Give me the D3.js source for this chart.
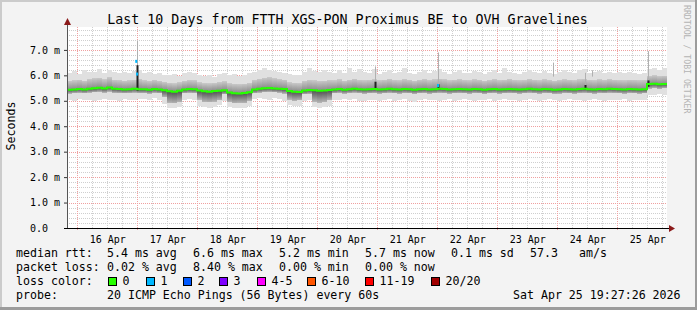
<!DOCTYPE html>
<html>
<head>
<meta charset="utf-8">
<script src="https://cdn.jsdelivr.net/npm/d3@7"></script>
<style>
body { margin: 0; background: #f3f3f3; }
svg { display: block; }
text { font-family: "DejaVu Sans Mono", monospace; fill: #000; }
</style>
</head>
<body>
<script>
var W = 697, H = 310;
var plot = {left: 67, right: 667, top: 27, bottom: 228};

var parseTime = d3.utcParse("%Y-%m-%d %H:%M");
var startTime = parseTime("2026-04-15 19:53");
var endTime = parseTime("2026-04-25 19:53");
var binHours = 2;

//median rtt in ms, one value per 2 hour bin
var median = [
  5.43,5.44,5.46,5.44,5.47,5.49,5.51,5.48,5.52,5.47,5.46,5.44,5.45,5.47,
  5.45,
  5.45,5.43,5.46,5.44,5.41,
  5.37,5.36,5.39,
  5.44,5.46,5.45,
  5.40,5.37,5.36,5.38,5.39,
  5.41,
  5.33,5.30,5.29,5.31,5.34,
  5.44,5.47,5.49,5.50,5.48,5.47,5.46,
  5.38,5.36,5.35,
  5.40,5.42,
  5.41,5.39,5.40,5.42,
  5.44,5.46,5.43,5.45,5.47,5.45,5.44,
  5.45,5.46,5.44,5.45,5.47,5.45,5.44,5.46,5.45,5.43,
  5.45,5.46,5.44,5.45,5.47,5.46,5.44,5.45,5.46,5.45,
  5.44,5.46,5.45,5.43,5.45,5.46,5.44,5.45,5.46,5.45,
  5.44,5.45,5.47,5.45,5.44,5.46,5.45,5.43,5.44,5.46,
  5.45,5.44,5.46,5.47,5.45,5.44,5.46,5.45,5.47,5.46,
  5.45,5.44,5.46,5.45,5.44,5.45,
  5.66,5.67,5.65,5.66
];

//smoke: lowest ping of each bin
var smokeMin = [
  5.04,5.00,5.07,5.02,5.05,4.99,5.03,5.07,5.02,5.05,5.00,5.06,5.02,5.05,
  5.08,
  5.07,5.04,5.09,5.05,4.88,
  4.72,4.70,4.76,
  5.05,5.08,5.02,
  4.80,4.74,4.72,4.75,4.82,
  5.00,
  4.74,4.70,4.72,4.70,4.80,
  5.06,5.10,5.08,5.04,5.10,5.06,5.00,
  4.82,4.78,4.80,
  5.00,5.03,
  4.76,4.72,4.74,4.80,
  5.05,5.02,5.08,5.04,5.06,5.00,4.98,
  5.02,5.05,4.98,5.04,5.07,5.00,5.03,5.06,5.01,4.97,
  5.04,5.08,5.02,5.05,4.99,5.03,5.06,5.00,5.04,5.07,
  5.02,4.98,5.05,5.03,5.06,5.01,5.04,5.08,5.02,5.05,
  5.00,5.03,5.06,5.02,4.99,5.05,5.07,5.03,5.00,5.04,
  5.06,5.02,5.05,5.01,5.04,5.07,5.03,5.00,5.05,5.02,
  5.04,5.06,5.01,5.03,5.05,5.02,
  5.24,5.22,5.26,5.23
];

//smoke: lower quartile
var smokeLow = [
  5.28,5.30,5.31,5.29,5.32,5.33,5.35,5.32,5.36,5.31,5.30,5.29,5.30,5.32,
  5.30,
  5.30,5.28,5.31,5.29,5.15,
  4.92,4.90,4.95,
  5.29,5.31,5.30,
  5.05,4.96,4.94,4.97,5.02,
  5.25,
  4.95,4.90,4.92,4.91,5.00,
  5.29,5.32,5.34,5.35,5.33,5.32,5.28,
  5.05,5.00,5.02,
  5.25,5.27,
  4.97,4.93,4.95,5.02,
  5.29,5.31,5.28,5.30,5.32,5.30,5.28,
  5.29,5.30,5.28,5.29,5.31,5.29,5.28,5.30,5.29,5.27,
  5.29,5.30,5.28,5.29,5.31,5.30,5.28,5.29,5.30,5.29,
  5.28,5.30,5.29,5.27,5.29,5.30,5.28,5.29,5.30,5.29,
  5.28,5.29,5.31,5.29,5.28,5.30,5.29,5.27,5.28,5.30,
  5.29,5.28,5.30,5.31,5.29,5.28,5.30,5.29,5.31,5.30,
  5.29,5.28,5.30,5.29,5.28,5.29,
  5.48,5.50,5.47,5.49
];

//smoke: upper quartile
var smokeHigh = [
  5.78,5.80,5.83,5.79,5.85,5.88,5.90,5.84,5.92,5.83,5.81,5.79,5.80,5.82,
  5.85,
  5.80,5.78,5.82,5.79,5.74,
  5.70,5.68,5.72,
  5.78,5.81,5.80,
  5.72,5.69,5.68,5.70,5.73,
  5.76,
  5.68,5.66,5.65,5.67,5.70,
  5.82,5.86,5.90,5.92,5.88,5.85,5.83,
  5.72,5.70,5.69,
  5.78,5.82,
  5.80,5.78,5.79,5.81,
  5.80,5.84,5.79,5.83,5.86,5.82,5.80,
  5.82,5.84,5.80,5.83,5.86,5.82,5.80,5.85,5.83,5.79,
  5.83,5.85,5.81,5.84,5.87,5.84,5.80,5.83,5.85,5.82,
  5.80,5.84,5.83,5.79,5.82,5.85,5.81,5.83,5.86,5.82,
  5.80,5.82,5.86,5.83,5.80,5.84,5.82,5.79,5.81,5.84,
  5.83,5.80,5.84,5.86,5.82,5.80,5.84,5.82,5.85,5.83,
  5.81,5.80,5.83,5.82,5.80,5.81,
  5.98,6.00,5.97,5.99
];

//smoke: highest ping of each bin
var smokeMax = [
  6.10,6.18,6.05,6.22,6.12,6.15,6.25,6.10,6.20,6.12,6.08,6.15,6.10,6.18,
  6.20,
  6.08,6.12,6.05,6.10,6.02,
  6.00,6.05,5.98,
  6.10,6.15,6.08,
  6.02,5.98,6.00,5.95,6.05,
  6.08,
  6.00,6.05,5.98,6.02,6.08,
  6.15,6.20,6.28,6.22,6.18,6.12,6.10,
  6.05,6.00,6.02,
  6.12,6.30,
  6.18,6.15,6.22,6.12,
  6.10,6.20,6.08,6.30,6.15,6.25,6.12,
  6.10,6.25,6.05,6.15,6.20,6.08,6.12,6.30,6.10,6.05,
  6.15,6.20,6.08,6.18,6.25,6.12,6.05,6.15,6.22,6.10,
  6.08,6.18,6.12,6.05,6.15,6.20,6.10,6.28,6.12,6.08,
  6.05,6.12,6.20,6.15,6.08,6.18,6.10,6.05,6.12,6.22,
  6.15,6.08,6.20,6.25,6.10,6.12,6.18,6.08,6.15,6.10,
  6.12,6.08,6.15,6.10,6.05,6.08,
  6.25,6.30,6.22,6.28
];

//single spikes: dark column from low to high, thin line up to top
var spikeTimes = ["2026-04-16 23:45", "2026-04-20 23:05", "2026-04-22 00:17", "2026-04-23 22:17", "2026-04-24 11:05", "2026-04-24 13:53", "2026-04-25 12:17"];
var spikeLow  = [5.40, 5.50, 5.50, 5.95, 5.45, 5.95, 5.55];
var spikeHigh = [6.40, 5.75, 5.65, 5.95, 5.62, 5.95, 5.80];
var spikeTop  = [7.35, 6.35, 6.90, 6.50, 6.10, 6.20, 6.95];

//median samples with packet loss
var lossTimes  = ["2026-04-16 23:35", "2026-04-16 23:55", "2026-04-22 00:17"];
var lossValues = [6.55, 6.05, 5.60];
var lossCounts = [1, 1, 1];

var yTicks = [0, 1, 2, 3, 4, 5, 6, 7];
var lossLabels = ["0", "1", "2", "3", "4-5", "6-10", "11-19", "20/20"];
var lossColors = ["#26ff00", "#00b8ff", "#0059ff", "#7e00ff", "#ff00ff", "#ff5500", "#ff0000", "#a10000"];

var xScale = d3.scaleUtc()
               .domain([startTime, endTime])
               .range([plot.left, plot.right]);

var yScale = d3.scaleLinear()
               .domain([0, 7.9])
               .range([plot.bottom, plot.top]);

var svg = d3.select("body")
            .append("svg")
            .attr("width", W)
            .attr("height", H);

//gradients for the smoke shading
var defs = svg.append("defs");
var gBelow = defs.append("linearGradient").attr("id", "below").attr("x1", 0).attr("y1", 0).attr("x2", 0).attr("y2", 1);
gBelow.append("stop").attr("offset", 0).attr("stop-color", "#505050");
gBelow.append("stop").attr("offset", 1).attr("stop-color", "#b4b4b4");
var gAbove = defs.append("linearGradient").attr("id", "above").attr("x1", 0).attr("y1", 0).attr("x2", 0).attr("y2", 1);
gAbove.append("stop").attr("offset", 0).attr("stop-color", "#c8c8c8");
gAbove.append("stop").attr("offset", 1).attr("stop-color", "#8a8a8a");

//frame with 3d shade
svg.append("rect").attr("width", W).attr("height", H).attr("fill", "#f3f3f3");
svg.append("path").attr("d", "M0,0H" + W + "V2H2V" + H + "H0Z").attr("fill", "#cbcbcb");
svg.append("path").attr("d", "M" + W + ",0V" + H + "H0V" + (H - 3) + "H" + (W - 2) + "V0Z").attr("fill", "#9c9c9c");

//canvas
svg.append("rect")
   .attr("x", plot.left)
   .attr("y", plot.top)
   .attr("width", plot.right - plot.left)
   .attr("height", plot.bottom - plot.top)
   .attr("fill", "#ffffff");

//grid lines
var grid = svg.append("g");
var minorX = d3.utcHour.every(6).range(startTime, endTime).filter(function(d){ return d.getUTCHours() != 0; });
var majorX = d3.utcDay.range(startTime, endTime);
var minorY = d3.range(1, 40).map(function(d){ return d / 5; }).filter(function(d){ return d % 1 > 0.01 && d % 1 < 0.99; });

grid.selectAll(".minx").data(minorX).enter().append("line")
    .attr("x1", function(d){ return Math.round(xScale(d)) + 0.5; })
    .attr("x2", function(d){ return Math.round(xScale(d)) + 0.5; })
    .attr("y1", plot.top).attr("y2", plot.bottom)
    .attr("stroke", "#cfcfcf").attr("stroke-dasharray", "1,1");

grid.selectAll(".miny").data(minorY).enter().append("line")
    .attr("x1", plot.left).attr("x2", plot.right)
    .attr("y1", function(d){ return Math.round(yScale(d)) + 0.5; })
    .attr("y2", function(d){ return Math.round(yScale(d)) + 0.5; })
    .attr("stroke", "#cfcfcf").attr("stroke-dasharray", "1,1");

grid.selectAll(".majx").data(majorX).enter().append("line")
    .attr("x1", function(d){ return Math.round(xScale(d)) + 0.5; })
    .attr("x2", function(d){ return Math.round(xScale(d)) + 0.5; })
    .attr("y1", plot.top).attr("y2", plot.bottom + 3)
    .attr("stroke", "#f0a0a0").attr("stroke-dasharray", "1,1");

grid.selectAll(".majy").data(yTicks.slice(1)).enter().append("line")
    .attr("x1", plot.left).attr("x2", plot.right)
    .attr("y1", function(d){ return Math.round(yScale(d)) + 0.5; })
    .attr("y2", function(d){ return Math.round(yScale(d)) + 0.5; })
    .attr("stroke", "#f0a0a0").attr("stroke-dasharray", "1,1");

//smoke bins
var bins = median.map(function(d, i){
    return {t0: d3.utcHour.offset(startTime, binHours * i),
            t1: d3.utcHour.offset(startTime, binHours * (i + 1)),
            med: d, min: smokeMin[i], low: smokeLow[i], high: smokeHigh[i], max: smokeMax[i]};
});

function smokeLayer(lo, hi, color){
    svg.append("g")
       .selectAll("rect")
       .data(bins)
       .enter()
       .append("rect")
       .attr("x", function(d){ return xScale(d.t0); })
       .attr("width", function(d){ return xScale(d.t1) - xScale(d.t0); })
       .attr("y", function(d){ return yScale(d[hi]); })
       .attr("height", function(d){ return yScale(d[lo]) - yScale(d[hi]); })
       .attr("fill", color)
       .attr("shape-rendering", "crispEdges");
}

smokeLayer("min", "max", "#e0e0e0");
smokeLayer("med", "high", "url(#above)");
smokeLayer("low", "med", "url(#below)");

//spikes
var spikes = spikeTimes.map(function(d, i){
    return {t: parseTime(d), low: spikeLow[i], high: spikeHigh[i], top: spikeTop[i]};
});

svg.append("g").selectAll("line").data(spikes).enter().append("line")
   .attr("x1", function(d){ return Math.round(xScale(d.t)) + 0.5; })
   .attr("x2", function(d){ return Math.round(xScale(d.t)) + 0.5; })
   .attr("y1", function(d){ return yScale(d.high); })
   .attr("y2", function(d){ return yScale(d.top); })
   .attr("stroke", "#b0b0b0");

svg.append("g").selectAll("line").data(spikes).enter().append("line")
   .attr("x1", function(d){ return Math.round(xScale(d.t)) + 0.5; })
   .attr("x2", function(d){ return Math.round(xScale(d.t)) + 0.5; })
   .attr("y1", function(d){ return yScale(d.low); })
   .attr("y2", function(d){ return yScale(d.high); })
   .attr("stroke", "#222")
   .attr("stroke-width", 2);

//median line
var medLine = d3.line()
                .x(function(d){ return xScale(d.t0); })
                .y(function(d){ return yScale(d.med); })
                .curve(d3.curveStepAfter);

var lastBin = bins[bins.length - 1];
svg.append("path")
   .datum(bins.concat([{t0: lastBin.t1, med: lastBin.med}]))
   .attr("d", medLine)
   .attr("fill", "none")
   .attr("stroke", lossColors[0])
   .attr("stroke-width", 2);

//loss colored samples
svg.append("g").selectAll("rect")
   .data(lossTimes.map(function(d, i){ return {t: parseTime(d), v: lossValues[i], c: lossCounts[i]}; }))
   .enter()
   .append("rect")
   .attr("x", function(d){ return xScale(d.t) - 1; })
   .attr("y", function(d){ return yScale(d.v) - 1.5; })
   .attr("width", 2)
   .attr("height", 3)
   .attr("fill", function(d){ return lossColors[d.c]; });

//axes
var yAxis = d3.axisLeft(yScale)
              .tickValues(yTicks)
              .tickSize(3)
              .tickFormat(function(d){ return d == 0 ? "0.0" : d.toFixed(1) + " m"; });

var yg = svg.append("g")
            .attr("transform", "translate(" + plot.left + ",0)")
            .call(yAxis);
yg.select(".domain").remove();
yg.selectAll("line").attr("stroke", "#333");
yg.selectAll("text")
  .attr("x", -37)
  .attr("text-anchor", "start")
  .attr("font-size", "10px")
  .attr("font-family", "DejaVu Sans Mono");

var noonTicks = majorX.map(function(d){ return d3.utcHour.offset(d, 12); });
var xAxis = d3.axisBottom(xScale)
              .tickValues(noonTicks)
              .tickSize(0)
              .tickPadding(8)
              .tickFormat(d3.utcFormat("%d Apr"));

var xg = svg.append("g")
            .attr("transform", "translate(0," + plot.bottom + ")")
            .call(xAxis);
xg.select(".domain").remove();
xg.selectAll("text")
  .attr("font-size", "10px")
  .attr("font-family", "DejaVu Sans Mono");

//axis lines and arrows
svg.append("line")
   .attr("x1", plot.left + 0.5).attr("x2", plot.left + 0.5)
   .attr("y1", plot.bottom).attr("y2", plot.top - 5)
   .attr("stroke", "#555");
svg.append("line")
   .attr("x1", plot.left - 3).attr("x2", plot.right + 2)
   .attr("y1", plot.bottom + 0.5).attr("y2", plot.bottom + 0.5)
   .attr("stroke", "#000");
svg.append("path")
   .attr("d", "M" + (plot.left - 3) + "," + (plot.top - 2) + "L" + (plot.left + 4) + "," + (plot.top - 2) + "L" + (plot.left + 0.5) + "," + (plot.top - 9) + "Z")
   .attr("fill", "#8b1a1a");
svg.append("path")
   .attr("d", "M" + (plot.right + 2) + "," + (plot.bottom - 3) + "L" + (plot.right + 2) + "," + (plot.bottom + 4) + "L" + (plot.right + 8) + "," + (plot.bottom + 0.5) + "Z")
   .attr("fill", "#8b1a1a");

//title and labels
svg.append("text")
   .attr("x", 347.5)
   .attr("y", 24)
   .attr("text-anchor", "middle")
   .attr("font-size", "13.3px")
   .text("Last 10 Days from FTTH XGS-PON Proximus BE to OVH Gravelines");

svg.append("text")
   .attr("transform", "translate(15,126) rotate(-90)")
   .attr("text-anchor", "middle")
   .attr("font-size", "11.6px")
   .text("Seconds");

svg.append("text")
   .attr("transform", "translate(684,5) rotate(90)")
   .attr("font-size", "8.2px")
   .style("fill", "#b4b4b4")
   .text("RRDTOOL / TOBI OETIKER");

//legend
var legendRows = [
  [["median rtt:", 16], ["5.4 ms avg", 107], ["6.6 ms max", 193], ["5.2 ms min", 279], ["5.7 ms now", 365], ["0.1 ms sd", 451], ["57.3", 530], ["am/s", 579]],
  [["packet loss:", 16], ["0.02 % avg", 107], ["8.40 % max", 193], ["0.00 % min", 279], ["0.00 % now", 365]],
  [["loss color:", 16]],
  [["probe:", 16], ["20 ICMP Echo Pings (56 Bytes) every 60s", 107], ["Sat Apr 25 19:27:26 2026", 513]]
];
var rowY = [257, 271, 285, 299];

legendRows.forEach(function(row, r){
    svg.append("g")
       .selectAll("text")
       .data(row)
       .enter()
       .append("text")
       .attr("x", function(d){ return d[1]; })
       .attr("y", rowY[r])
       .attr("font-size", "11.6px")
       .text(function(d){ return d[0]; });
});

var swatchX = [108, 146, 183, 219, 257, 307, 365, 431];
var lg = svg.append("g").selectAll("g").data(lossLabels).enter().append("g");
lg.append("rect")
  .attr("x", function(d, i){ return swatchX[i] + 0.5; })
  .attr("y", 277.5)
  .attr("width", 8)
  .attr("height", 8)
  .attr("fill", function(d, i){ return lossColors[i]; })
  .attr("stroke", "#000");
lg.append("text")
  .attr("x", function(d, i){ return swatchX[i] + 14.5; })
  .attr("y", rowY[2])
  .attr("font-size", "11.6px")
  .text(function(d){ return d; });
</script>
</body>
</html>
